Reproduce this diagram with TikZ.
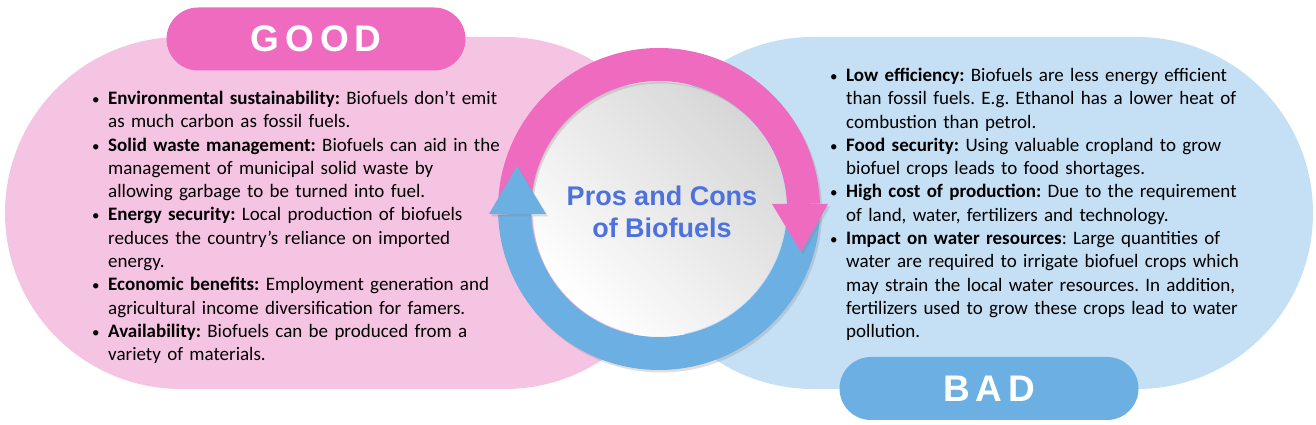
\documentclass[tikz,border=0pt]{standalone}
\usepackage{fontspec}
\setmainfont{Carlito}
\newfontfamily\arialfont{Liberation Sans}
\newfontfamily\pillfont[LetterSpace=16]{Liberation Sans}
\usepackage{tikz}
\usetikzlibrary{positioning, shadows}
\usepackage{xcolor}

\definecolor{goodlight}{HTML}{F6C4E3}
\definecolor{badlight}{HTML}{C5DFF4}
\definecolor{goodpink}{HTML}{EF6BC0}
\definecolor{badblue}{HTML}{6CB0E3}
\definecolor{arrowpink}{HTML}{EF6BC0}
\definecolor{arrowblue}{HTML}{6CAFE2}
\definecolor{titleblue}{HTML}{4D71DD}

\newcommand\bul{\par\leftskip=16pt\noindent\llap{\makebox[16pt][l]{\fontsize{15}{15}\selectfont\textbullet}}}
\frenchspacing

\begin{document}
\begin{tikzpicture}[x=1pt, y=1pt,
    panel/.style={rectangle, rounded corners=176pt, minimum width=676pt, minimum height=352pt, inner sep=0pt},
    pill/.style={rectangle, rounded corners=31.5pt, minimum width=299pt, minimum height=63pt, inner sep=0pt, text=white, font=\pillfont\bfseries\fontsize{37}{40}\selectfont},
    listtext/.style={anchor=north west, inner sep=0pt, text width=460pt, font=\fontsize{19}{23.3}\selectfont\raggedright},
    band/.style={drop shadow={opacity=0.25, shadow xshift=2pt, shadow yshift=-2.5pt}},
    title/.style={align=center, text=titleblue, font=\arialfont\bfseries\fontsize{27}{32}\selectfont}]
      \useasboundingbox (0,0) rectangle (1316,425);

      \node[panel, fill=goodlight] (goodpanel) at (343,212) {};
      \node[panel, fill=badlight] (badpanel) at (975,212) {};
      \node[pill, fill=goodpink] (good) at (316,386) {GOOD};
      \node[pill, fill=badblue] (bad) at (989,36.5) {BAD};

      \coordinate (C) at (659,216);
      \shade[top color=black!16, bottom color=white, shading angle=-45] (C) circle (127);
      \fill[arrowpink, band, shift={(C)}] (178:161) arc (178:2:161) -- (2:128) arc (2:178:128) -- cycle;
      \fill[arrowblue, band, shift={(C)}] (0:161) arc (0:-178:161) -- (-178:128) arc (-178:0:128) -- cycle;
      \fill[arrowpink, band, shift={(C)}] (113,5) -- (169,5) -- (142,-43) -- cycle;
      \fill[arrowblue, band, shift={(C)}] (-113,-5) -- (-170,-5) -- (-142,43) -- cycle;

      \node[title] (topic) at (662,213) {Pros and Cons\\of Biofuels};

      \node[listtext] (pros) at (92,344) {%
        \bul\textbf{Environmental sustainability:} Biofuels don’t emit\\as much carbon as fossil fuels.
        \bul\textbf{Solid waste management:} Biofuels can aid in the\\management of municipal solid waste by\\allowing garbage to be turned into fuel.
        \bul\textbf{Energy security:} Local production of biofuels\\reduces the country’s reliance on imported\\energy.
        \bul\textbf{Economic benefits:} Employment generation and\\agricultural income diversification for famers.
        \bul\textbf{Availability:} Biofuels can be produced from a\\variety of materials.\par};
      \node[listtext] (cons) at (830,367) {%
        \bul\textbf{Low efficiency:} Biofuels are less energy efficient\\than fossil fuels. E.g. Ethanol has a lower heat of\\combustion than petrol.
        \bul\textbf{Food security:} Using valuable cropland to grow\\biofuel crops leads to food shortages.
        \bul\textbf{High cost of production:} Due to the requirement\\of land, water, fertilizers and technology.
        \bul\textbf{Impact on water resources}: Large quantities of\\water are required to irrigate biofuel crops which\\may strain the local water resources. In addition,\\fertilizers used to grow these crops lead to water\\pollution.\par};
    \end{tikzpicture}
\end{document}
